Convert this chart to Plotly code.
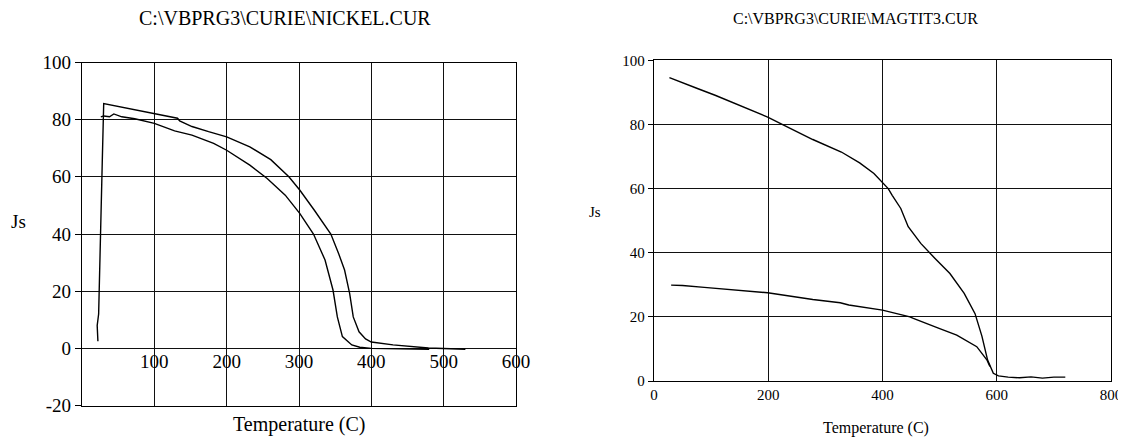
import plotly.graph_objects as go

# ---- Data: NICKEL.CUR ----
ni_heat_T = [22, 21, 23, 25, 26, 28, 30, 50, 75, 100, 125, 132, 135, 152, 175, 200, 232, 261, 286,
             301, 321, 344, 355, 363, 370, 375, 383, 392, 400, 430, 479, 530]
ni_heat_J = [2.5, 8, 12, 30, 45, 65, 85.6, 84.6, 83.4, 82.2, 80.8, 80.5, 79.6, 77.6, 75.8, 74.0, 70.5, 66, 60,
             55.4, 48.4, 40, 33, 27.4, 19.2, 11, 5.8, 3.3, 2.2, 1.2, 0.1, -0.3]
ni_cool_T = [26, 30, 38, 44, 55, 73, 100, 128, 152, 182, 200, 232, 256, 281, 301, 320, 336, 347, 353,
             360, 373, 384, 400, 440, 480]
ni_cool_J = [81, 81.3, 81.0, 82, 81, 80.3, 78.7, 76.1, 74.6, 71.7, 69.3, 64.1, 59.4, 53.6, 47.2, 40, 30.9, 20.4, 11,
             4.1, 1.2, 0.4, 0, -0.2, -0.3]

# ---- Data: MAGTIT3.CUR ----
mt_upper_T = [27, 38, 76, 107, 152, 199, 227, 278, 328, 360, 385, 400, 410, 417, 432, 445, 467, 492, 518,
              543, 562, 574, 584, 594, 603, 620, 640, 660, 680, 700, 720]
mt_upper_J = [94.6, 93.8, 91.2, 89.1, 85.7, 82.3, 79.8, 75.3, 71.4, 68, 64.7, 62, 60, 57.9, 53.8, 48.1, 42.9, 38.2, 33.5,
              27.3, 21, 14, 6.5, 2.4, 1.6, 1.2, 1.0, 1.3, 0.9, 1.2, 1.2]
mt_lower_T = [30, 50, 88, 151, 199, 278, 326, 341, 400, 448, 454, 499, 530, 565, 583, 588]
mt_lower_J = [29.9, 29.8, 29.2, 28.1, 27.5, 25.4, 24.4, 23.7, 22.1, 20, 19.5, 16.4, 14.3, 10.7, 6.5, 4.5]

# ---- Tick labels ----
ni_x_ticks = [100, 200, 300, 400, 500, 600]
ni_y_ticks = [-20, 0, 20, 40, 60, 80, 100]
mt_x_ticks = [0, 200, 400, 600, 800]
mt_y_ticks = [0, 20, 40, 60, 80, 100]

FONT = "Liberation Serif"
OFF = 8                      # browser body margin
W, H = 1126 - OFF, 439 - OFF

line = dict(color="black", width=1.4)

fig = go.Figure()
fig.add_trace(go.Scatter(x=ni_heat_T, y=ni_heat_J, mode="lines", line=line, xaxis="x", yaxis="y"))
fig.add_trace(go.Scatter(x=ni_cool_T, y=ni_cool_J, mode="lines", line=line, xaxis="x3", yaxis="y"))
fig.add_trace(go.Scatter(x=mt_upper_T, y=mt_upper_J, mode="lines", line=line, xaxis="x2", yaxis="y2"))
fig.add_trace(go.Scatter(x=mt_lower_T, y=mt_lower_J, mode="lines", line=line, xaxis="x2", yaxis="y2"))

# plot area pixel boxes (page pixels)
L = dict(x0=82, x1=516, y0=62.5, y1=405.5)
R = dict(x0=654, x1=1111, y0=60.3, y1=381)

def px(x):
    return (x - OFF) / W

def py(y):
    return 1 - (y - OFF) / H

grid = dict(showgrid=True, gridcolor="#111", gridwidth=1.2, showline=True, linecolor="black",
            linewidth=1.4, mirror=True, zeroline=False, automargin=False)

zero_pos = py(L["y0"] + (100 - 0) / 120 * (L["y1"] - L["y0"]))

fig.update_layout(
    template="none",
    width=W, height=H, showlegend=False,
    margin=dict(l=0, r=0, t=0, b=0, pad=0),
    paper_bgcolor="white", plot_bgcolor="white",
    font=dict(family=FONT, color="black"),
    xaxis=dict(domain=[px(L["x0"]), px(L["x1"])], range=[0, 600], anchor="y",
               tickvals=[0] + ni_x_ticks, showticklabels=False, ticks="", **grid),
    yaxis=dict(domain=[py(L["y1"]), py(L["y0"])], range=[-20, 100], anchor="x",
               tickvals=ni_y_ticks, ticktext=[str(v) for v in ni_y_ticks],
               ticks="outside", ticklen=6, tickcolor="black",
               tickfont=dict(size=19, family=FONT), **grid),
    xaxis3=dict(overlaying="x", anchor="free", position=zero_pos, range=[0, 600],
                tickvals=ni_x_ticks, ticktext=[str(v) for v in ni_x_ticks],
                showgrid=False, showline=False, zeroline=False, ticks="", automargin=False,
                tickfont=dict(size=19, family=FONT)),
    xaxis2=dict(domain=[px(R["x0"]), px(R["x1"])], range=[0, 800], anchor="y2",
                tickvals=mt_x_ticks, ticks="", tickfont=dict(size=15, family=FONT), **grid),
    yaxis2=dict(domain=[py(R["y1"]), py(R["y0"])], range=[0, 100], anchor="x2",
                tickvals=mt_y_ticks, ticks="outside", ticklen=5, tickcolor="black",
                tickfont=dict(size=15, family=FONT), **grid),
)

ann = [
    dict(text="C:\\VBPRG3\\CURIE\\NICKEL.CUR", x=px(285), y=py(18), size=20),
    dict(text="C:\\VBPRG3\\CURIE\\MAGTIT3.CUR", x=px(855.5), y=py(18), size=16),
    dict(text="Temperature (C)", x=px(298.5), y=py(424), size=20),
    dict(text="Temperature (C)", x=px(875.5), y=py(428), size=16),
    dict(text="Js", x=px(18), y=py(222), size=19),
    dict(text="Js", x=px(595), y=py(212), size=15),
]
for a in ann:
    fig.add_annotation(text=a["text"], x=a["x"], y=a["y"], xref="paper", yref="paper",
                       xanchor="center", yanchor="middle", showarrow=False,
                       font=dict(size=a["size"], family=FONT, color="black"))

fig.write_html("out.html")
